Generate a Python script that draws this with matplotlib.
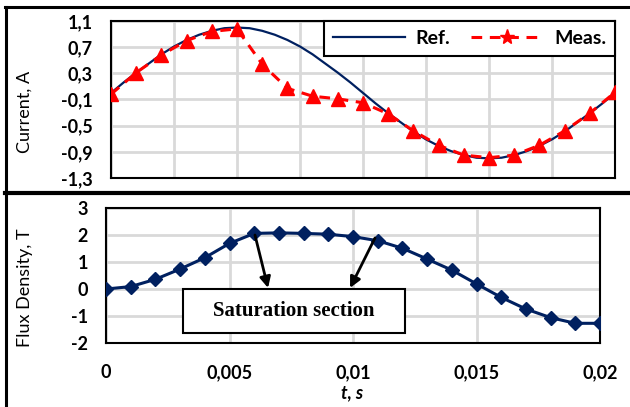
import matplotlib.pyplot as plt
from matplotlib.lines import Line2D
from matplotlib.patches import Rectangle

# time axis, s (sampling step 1 ms)
t = [0.000, 0.001, 0.002, 0.003, 0.004, 0.005, 0.006, 0.007, 0.008, 0.009, 0.010,
     0.011, 0.012, 0.013, 0.014, 0.015, 0.016, 0.017, 0.018, 0.019, 0.020]

# reference current is drawn on a finer time grid (0.5 ms) so it looks smooth
t_ref = [0.0, 0.0005, 0.001, 0.0015, 0.002, 0.0025, 0.003, 0.0035, 0.004, 0.0045,
         0.005, 0.0055, 0.006, 0.0065, 0.007, 0.0075, 0.008, 0.0085, 0.009, 0.0095,
         0.01, 0.0105, 0.011, 0.0115, 0.012, 0.0125, 0.013, 0.0135, 0.014, 0.0145,
         0.015, 0.0155, 0.016, 0.0165, 0.017, 0.0175, 0.018, 0.0185, 0.019, 0.0195, 0.02]
i_ref = [0.0, 0.16, 0.31, 0.45, 0.59, 0.71, 0.81, 0.89, 0.95, 0.99,
         1.0, 0.99, 0.95, 0.89, 0.81, 0.71, 0.59, 0.45, 0.31, 0.16,
         0.0, -0.16, -0.31, -0.45, -0.59, -0.71, -0.81, -0.89, -0.95, -0.99,
         -1.0, -0.99, -0.95, -0.89, -0.81, -0.71, -0.59, -0.45, -0.31, -0.16, 0.0]

# measured current, A
i_meas = [-0.02, 0.31, 0.58, 0.8, 0.94, 0.98, 0.44, 0.07, -0.05, -0.09, -0.15,
          -0.32, -0.58, -0.8, -0.95, -0.99, -0.95, -0.8, -0.58, -0.31, 0.01]

# flux density, T
flux = [0.0, 0.09, 0.36, 0.74, 1.16, 1.69, 2.06, 2.08, 2.06, 2.03, 1.94,
        1.79, 1.51, 1.11, 0.7, 0.19, -0.31, -0.74, -1.06, -1.27, -1.27]

top_yticks = [-1.3, -0.9, -0.5, -0.1, 0.3, 0.7, 1.1]
top_ylabels = ['-1,3', '-0,9', '-0,5', '-0,1', '0,3', '0,7', '1,1']
bot_xticks = [0, 0.005, 0.01, 0.015, 0.02]
bot_xlabels = ['0', '0,005', '0,01', '0,015', '0,02']
bot_yticks = [-2, -1, 0, 1, 2, 3]

navy = '#002060'
grid_c = '#d9d9d9'
plt.rcParams['font.family'] = ['Lato', 'DejaVu Sans']

fig = plt.figure(figsize=(6.3, 4.07), dpi=100)

# ---- top panel: current
ax1 = fig.add_axes([0.1762, 0.5627, 0.8, 0.3857])
ax1.plot(t_ref, i_ref, color=navy, lw=1.6, label='Ref.', zorder=3)
ax1.plot(t, i_meas, color='red', lw=2.2, dashes=(3.5, 2.5), marker='^', ms=10,
         label='Meas.', zorder=4)
ax1.set_xlim(0, 0.02)
ax1.set_ylim(-1.3, 1.1)
ax1.set_xticks([0, 0.0025, 0.005, 0.0075, 0.01, 0.0125, 0.015, 0.0175, 0.02])
ax1.set_xticklabels([])
ax1.set_yticks(top_yticks)
ax1.set_yticklabels(top_ylabels, fontsize=13, fontweight='bold')
ax1.tick_params(length=0, pad=13)
ax1.grid(True, color=grid_c, lw=2)
ax1.set_axisbelow(True)
for s in ax1.spines.values():
    s.set_linewidth(1.5)

# legend with star marker like the original
h_ref = Line2D([], [], color=navy, lw=1.6)
h_meas = Line2D([], [], color='red', lw=2.2, dashes=(3.5, 2.5), marker='*', ms=11)
leg = ax1.legend([h_ref, h_meas], ['Ref.', 'Meas.'], ncol=2, loc='upper right',
                 bbox_to_anchor=(1.0, 1.0), fancybox=False, framealpha=1,
                 edgecolor='black', prop={'weight': 'bold', 'size': 14},
                 handlelength=3.7, columnspacing=1.1, borderaxespad=0,
                 handletextpad=0.55, borderpad=0.45)
leg.get_frame().set_linewidth(1.5)

# ---- bottom panel: flux density
ax2 = fig.add_axes([0.1683, 0.1572, 0.7841, 0.3317])
ax2.plot(t, flux, color=navy, lw=2.2, marker='D', ms=7, zorder=3)
ax2.set_xlim(0, 0.02)
ax2.set_ylim(-2, 3)
ax2.set_xticks(bot_xticks)
ax2.set_xticklabels(bot_xlabels, fontsize=13, fontweight='bold')
ax2.set_yticks(bot_yticks)
ax2.set_yticklabels([str(v) for v in bot_yticks], fontsize=13, fontweight='bold')
ax2.tick_params(length=0)
ax2.tick_params(axis='x', pad=15)
ax2.tick_params(axis='y', pad=13)
ax2.grid(True, color=grid_c, lw=2)
ax2.set_axisbelow(True)
for s in ax2.spines.values():
    s.set_linewidth(1.5)

# saturation annotation
ax2.annotate('', xy=(0.00656, 0.04), xytext=(0.00603, 2.0),
             arrowprops=dict(arrowstyle='-|>', color='black', lw=2, mutation_scale=16,
                             shrinkA=0, shrinkB=0), zorder=6)
ax2.annotate('', xy=(0.00988, 0.04), xytext=(0.01089, 1.89),
             arrowprops=dict(arrowstyle='-|>', color='black', lw=2, mutation_scale=16,
                             shrinkA=0, shrinkB=0), zorder=6)
fig.add_artist(Rectangle((0.2905, 0.1818), 0.3524, 0.1081, transform=fig.transFigure,
                         facecolor='white', edgecolor='black', lw=1.5, zorder=5))
fig.text(0.4667, 0.2359, 'Saturation section', family='Liberation Serif',
         fontweight='bold', fontsize=15, ha='center', va='center', zorder=6)

# axis titles
fig.text(0.0397, 0.7248, 'Current, A', rotation=90, ha='center', va='center', fontsize=13)
fig.text(0.0397, 0.2924, 'Flux Density, T', rotation=90, ha='center', va='center', fontsize=13)
fig.text(0.5587, 0.0344, 't, s', ha='center', va='center', fontsize=13,
         fontweight='bold', style='italic')

# panel frames
fig.add_artist(Line2D([0.008, 1.0], [0.982, 0.982], color='black', lw=2.2))
fig.add_artist(Line2D([0.0095, 0.0095], [0.0, 0.982], color='black', lw=2.2))
fig.add_artist(Line2D([0.008, 1.0], [0.526, 0.526], color='black', lw=3))

fig.savefig('out.png', dpi=100)
